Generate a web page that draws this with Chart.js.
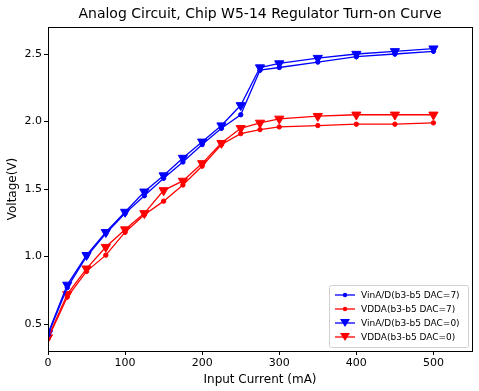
<!DOCTYPE html>
<html>
<head>
<meta charset="utf-8">
<script src="https://cdn.jsdelivr.net/npm/chart.js@4/dist/chart.umd.min.js"></script>
<style>
  html, body { margin: 0; padding: 0; background: #fff; }
  #wrap { width: 479px; height: 391px; }
</style>
</head>
<body>
<div id="wrap"><canvas id="chart" width="479" height="391"></canvas></div>
<script>
const current = [0, 25, 50, 75, 100, 125, 150, 175, 200, 225, 250, 275, 300, 350, 400, 450, 500];
const vinDac7 = [0.42, 0.77, 1.00, 1.17, 1.32, 1.45, 1.58, 1.70, 1.83, 1.95, 2.05, 2.38, 2.40, 2.44, 2.48, 2.50, 2.52];
const vddaDac7 = [0.39, 0.70, 0.89, 1.01, 1.18, 1.31, 1.41, 1.53, 1.67, 1.83, 1.91, 1.94, 1.96, 1.97, 1.98, 1.98, 1.99];
const vinDac0 = [0.43, 0.79, 1.01, 1.18, 1.33, 1.48, 1.60, 1.73, 1.85, 1.97, 2.12, 2.40, 2.43, 2.47, 2.50, 2.52, 2.54];
const vddaDac0 = [0.40, 0.72, 0.91, 1.07, 1.20, 1.32, 1.49, 1.56, 1.69, 1.84, 1.95, 1.99, 2.02, 2.04, 2.05, 2.05, 2.05];
const xTicks = [0, 100, 200, 300, 400, 500];
const yTicks = [0.5, 1.0, 1.5, 2.0, 2.5];
const chartTitle = 'Analog Circuit, Chip W5-14 Regulator Turn-on Curve';

const FONT = "'DejaVu Sans', sans-serif";

function toPoints(ys) {
  return current.map((x, i) => ({ x: x, y: ys[i] }));
}

function series(label, ys, color, marker) {
  const tri = marker === 'tri';
  return {
    label: label,
    data: toPoints(ys),
    borderColor: color,
    backgroundColor: color,
    borderWidth: 1.3,
    pointStyle: tri ? 'triangle' : 'circle',
    pointRotation: tri ? 180 : 0,
    pointRadius: tri ? 5.3 : 2.2,
    pointBorderWidth: 1,
    tension: 0,
    fill: false,
  };
}

// title centred over the plot, frame around it, legend inside lower right
const framePlugin = {
  id: 'frame',
  afterDraw(chart) {
    const { ctx, chartArea: a } = chart;
    ctx.save();
    ctx.fillStyle = '#000';
    ctx.font = '14px ' + FONT;
    ctx.textAlign = 'center';
    ctx.textBaseline = 'middle';
    ctx.fillText(chartTitle, (a.left + a.right) / 2, 14);

    ctx.strokeStyle = '#000';
    ctx.lineWidth = 1;
    ctx.strokeRect(a.left + 0.5, a.top + 0.5, a.right - a.left, a.bottom - a.top);

    const sets = chart.data.datasets;
    const rowH = 14;
    const boxW = 139;
    const boxH = sets.length * rowH + 6;
    const bx = a.right - 4 - boxW;
    const by = a.bottom - 4 - boxH;
    ctx.fillStyle = 'rgba(255,255,255,0.85)';
    ctx.strokeStyle = '#d0d0d0';
    ctx.beginPath();
    ctx.roundRect(bx + 0.5, by + 0.5, boxW, boxH, 2);
    ctx.fill();
    ctx.stroke();
    ctx.font = '9px ' + FONT;
    ctx.textAlign = 'left';
    sets.forEach((ds, i) => {
      const cy = by + 10 + i * rowH;
      ctx.strokeStyle = ds.borderColor;
      ctx.lineWidth = 1.3;
      ctx.beginPath();
      ctx.moveTo(bx + 6, cy);
      ctx.lineTo(bx + 26, cy);
      ctx.stroke();
      ctx.fillStyle = ds.borderColor;
      ctx.beginPath();
      if (ds.pointStyle === 'triangle') {
        ctx.moveTo(bx + 11, cy - 4);
        ctx.lineTo(bx + 21, cy - 4);
        ctx.lineTo(bx + 16, cy + 4);
        ctx.closePath();
      } else {
        ctx.arc(bx + 16, cy, 2.2, 0, Math.PI * 2);
      }
      ctx.fill();
      ctx.fillStyle = '#000';
      ctx.fillText(ds.label, bx + 32, cy + 0.5);
    });
    ctx.restore();
  },
};

new Chart(document.getElementById('chart').getContext('2d'), {
  type: 'line',
  data: {
    datasets: [
      series('VinA/D(b3-b5 DAC=7)', vinDac7, '#0000ff', 'dot'),
      series('VDDA(b3-b5 DAC=7)', vddaDac7, '#ff0000', 'dot'),
      series('VinA/D(b3-b5 DAC=0)', vinDac0, '#0000ff', 'tri'),
      series('VDDA(b3-b5 DAC=0)', vddaDac0, '#ff0000', 'tri'),
    ],
  },
  options: {
    responsive: false,
    animation: false,
    layout: { padding: { left: 2, right: 7, top: 27, bottom: 2 } },
    plugins: {
      legend: { display: false },
      tooltip: { enabled: false },
      title: { display: false },
    },
    scales: {
      x: {
        type: 'linear',
        min: 0,
        max: 550,
        afterBuildTicks: (s) => { s.ticks = xTicks.map(v => ({ value: v })); },
        afterFit: (s) => { s.height = 38; },
        grid: { drawOnChartArea: false, drawTicks: true, tickLength: 4, color: '#000' },
        border: { display: true, color: '#000' },
        ticks: { color: '#000', font: { family: FONT, size: 11 }, padding: 2, maxRotation: 0 },
        title: {
          display: true,
          text: 'Input Current (mA)',
          color: '#000',
          font: { family: FONT, size: 12 },
          padding: { top: 0, bottom: 2 },
        },
      },
      y: {
        type: 'linear',
        min: 0.3,
        max: 2.7,
        afterBuildTicks: (s) => { s.ticks = yTicks.map(v => ({ value: v })); },
        afterFit: (s) => { s.width = 46; },
        grid: { drawOnChartArea: false, drawTicks: true, tickLength: 4, color: '#000' },
        border: { display: true, color: '#000' },
        ticks: {
          color: '#000',
          font: { family: FONT, size: 11 },
          padding: 2,
          callback: (v) => Number(v).toFixed(1),
        },
        title: {
          display: true,
          text: 'Voltage(V)',
          color: '#000',
          font: { family: FONT, size: 12 },
          padding: { top: 4, bottom: 0 },
        },
      },
    },
  },
  plugins: [framePlugin],
});
</script>
</body>
</html>
